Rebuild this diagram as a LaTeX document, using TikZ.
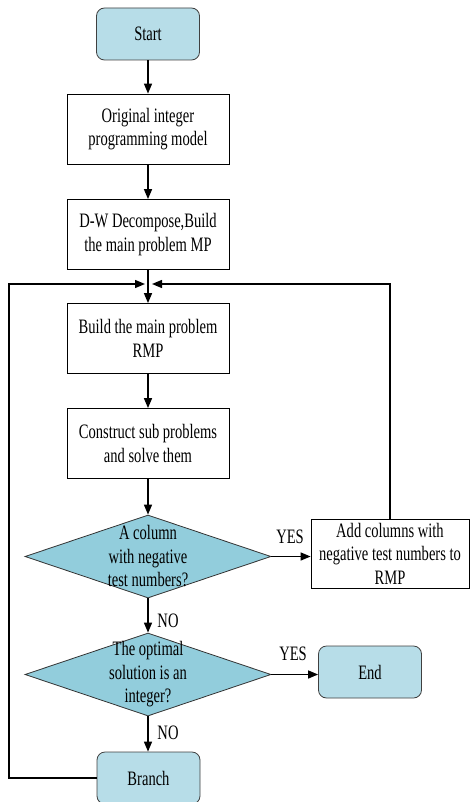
\documentclass[tikz,border=0pt]{standalone}
\usepackage{fontspec}
\setmainfont{Liberation Serif}[FakeStretch=0.71]
\usetikzlibrary{shapes.geometric,arrows.meta}
\definecolor{termfill}{HTML}{B7DDE8}
\definecolor{decfill}{HTML}{92CDDC}
\begin{document}
\begin{tikzpicture}[x=1pt,y=-1pt,
 txt/.style={font=\fontsize{20.5}{23.5}\selectfont, align=center, inner sep=0pt},
 procbox/.style={txt, draw, line width=0.8pt, minimum width=162pt, minimum height=70pt},
 term/.style={txt, draw=black!75, fill=termfill, rounded corners=8pt, minimum width=103pt, minimum height=52pt, line width=0.8pt},
 decision/.style={diamond, draw=black!80, fill=decfill, minimum width=246pt, minimum height=83pt, inner sep=0pt, line width=0.8pt},
 flow/.style={line width=1.4pt, line join=miter, -{Triangle[length=10pt,width=8pt]}},
 lbl/.style={txt}]
\useasboundingbox (0,0) rectangle (469,802);
\node[term] (start) at (148,34) {Start};
\node[procbox] (orig) at (148,129) {Original integer\\programming model};
\node[procbox] (dw) at (148,234.5) {D-W Decompose,Build\\the main problem MP};
\node[procbox] (rmp) at (148,338.5) {Build the main problem\\RMP};
\node[procbox] (cons) at (148,443.5) {Construct sub problems\\and solve them};
\node[decision] (d1) at (148,556.5) {};
\node[txt] (d1t) at (148,556.5) {A column\\with negative\\test numbers?};
\node[procbox, minimum width=158pt, minimum height=69pt] (add) at (390,553.5) {Add columns with\\negative test numbers to\\RMP};
\node[decision] (d2) at (148,674.5) {};
\node[txt] (d2t) at (148,674.5) {The optimal\\solution is an\\integer?};
\node[term] (end) at (370,672) {End};
\node[term] (branch) at (148.5,778) {Branch};
\node[lbl] (yes1) at (290,537) {YES};
\node[lbl] (yes2) at (293,654) {YES};
\node[lbl] (no1) at (168,621) {NO};
\node[lbl] (no2) at (168,733) {NO};
\coordinate (lc) at (9,284);
\coordinate (jl) at (145,284);
\coordinate (jr) at (152,284);
\draw[flow] (start) -- (orig);
\draw[flow] (orig) -- (dw);
\draw[flow] (dw) -- (rmp);
\draw[flow] (rmp) -- (cons);
\draw[flow] (cons) -- (d1);
\draw[flow] (d1) -- (d2);
\draw[flow] (d2) -- (branch.north -| d2.south);
\draw[flow] (d1.east) -- (d1.east -| add.west);
\draw[flow] (d2.east) -- (d2.east -| end.west);
\draw[flow] (branch.west) -| (lc) -- (jl);
\draw[flow] (add.north) |- (jr);
\end{tikzpicture}
\end{document}
